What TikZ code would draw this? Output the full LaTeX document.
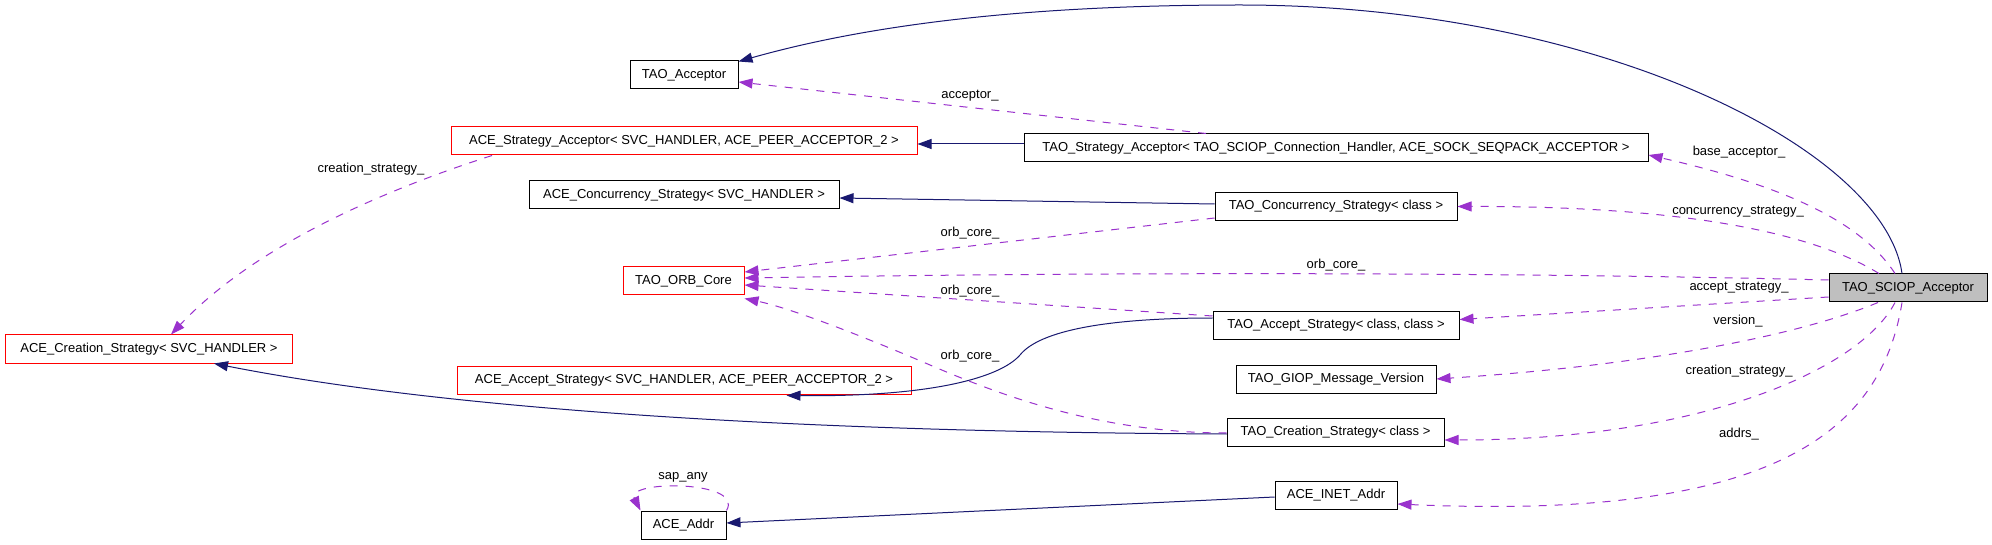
\documentclass[tikz,border=0pt]{standalone}
\usepackage{fontspec}
\setmainfont{Liberation Sans}
\usetikzlibrary{arrows.meta,calc}
\definecolor{inhcol}{HTML}{191970}
\definecolor{usecol}{HTML}{9A32CD}
\definecolor{boxred}{HTML}{FF0000}
\definecolor{boxgray}{HTML}{BFBFBF}
\begin{document}
\begin{tikzpicture}[x=1pt,y=-1pt,
  cls/.style={draw=black, line width=1pt, minimum height=28pt, inner sep=0pt, font=\fontsize{13}{15}\selectfont, fill=white},
  redcls/.style={cls, draw=boxred},
  inh/.style={draw=inhcol, line width=1pt, -{Triangle[length=14pt,width=10pt]}},
  use/.style={draw=usecol, line width=1pt, dash pattern=on 8pt off 8pt, -{Triangle[length=14pt,width=10pt]}},
  lbl/.style={font=\fontsize{13}{15}\selectfont, inner sep=0pt}]
\fill[white] (0,0) rectangle (1992,545);
\useasboundingbox (0,0) rectangle (1992,545);
% nodes
\node[cls, fill=boxgray, minimum width=158pt] (sciop) at (1908,288) {TAO\_SCIOP\_Acceptor};
\node[cls, minimum width=108pt] (tacc) at (684,75) {TAO\_Acceptor};
\node[redcls, minimum width=466pt] (asa) at (684,141) {ACE\_Strategy\_Acceptor< SVC\_HANDLER, ACE\_PEER\_ACCEPTOR\_2 >};
\node[cls, minimum width=310pt] (acs2) at (684,195) {ACE\_Concurrency\_Strategy< SVC\_HANDLER >};
\node[redcls, minimum width=121pt] (orb) at (683.5,281) {TAO\_ORB\_Core};
\node[redcls, minimum width=287pt] (acr) at (149,349) {ACE\_Creation\_Strategy< SVC\_HANDLER >};
\node[redcls, minimum width=454pt] (aas) at (684,380) {ACE\_Accept\_Strategy< SVC\_HANDLER, ACE\_PEER\_ACCEPTOR\_2 >};
\node[cls, minimum width=85pt] (addr) at (683.5,525) {ACE\_Addr};
\node[cls, minimum width=624pt] (tsa) at (1336,148) {TAO\_Strategy\_Acceptor< TAO\_SCIOP\_Connection\_Handler, ACE\_SOCK\_SEQPACK\_ACCEPTOR >};
\node[cls, minimum width=242pt] (tcs) at (1336,206.5) {TAO\_Concurrency\_Strategy< class >};
\node[cls, minimum width=246pt] (tas) at (1336,325.5) {TAO\_Accept\_Strategy< class, class >};
\node[cls, minimum width=200pt] (giop) at (1336,379) {TAO\_GIOP\_Message\_Version};
\node[cls, minimum width=217pt] (tcr) at (1335.5,432) {TAO\_Creation\_Strategy< class >};
\node[cls, minimum width=122pt] (inet) at (1336,495) {ACE\_INET\_Addr};
% inheritance
\draw[inh] ([xshift=-6pt]sciop.north) .. controls (1885,150) and (1600,5) .. (1240,5) .. controls (1000,5) and (850,30) .. ([yshift=-1pt]tacc.north east);
\draw[inh] ([yshift=4pt]tsa.west) -- ([yshift=-3pt]asa.east);
\draw[inh] ([yshift=2.5pt]tcs.west) -- ([yshift=-3pt]acs2.east);
\draw[inh] ([yshift=7.5pt]tas.west) .. controls (1110,318) and (1040,330) .. (1020,355) .. controls (1000,378) and (930,397) .. ([xshift=-125pt,yshift=-1pt]aas.south east);
\draw[inh] ([yshift=-2pt]tcr.west) .. controls (800,432) and (450,410) .. ([xshift=65pt]acr.south);
\draw[inh] ([yshift=-2pt]inet.west) -- ([yshift=2pt]addr.east);
% usage
\draw[use] ([xshift=-130pt]tsa.north) -- ([yshift=-7pt]tacc.east);
\node[lbl] (l1) at (970,96) {acceptor\_};
\draw[use] ([xshift=-13pt]sciop.north) .. controls (1860,220) and (1780,185) .. ([yshift=-7pt]tsa.east);
\node[lbl] (l2) at (1739,152) {base\_acceptor\_};
\draw[use] ([xshift=-29pt]sciop.north) .. controls (1800,225) and (1650,206) .. (tcs.east);
\node[lbl] (l3) at (1738,212) {concurrency\_strategy\_};
\draw[use] ([yshift=8pt]sciop.west) .. controls (1500,272) and (1100,272) .. ([yshift=3pt]orb.east);
\node[lbl] (l4) at (1336,265) {orb\_core\_};
\draw[use] ([yshift=-9pt]sciop.west) -- ([yshift=6pt]tas.east);
\node[lbl] (l5) at (1739,288) {accept\_strategy\_};
\draw[use] ([xshift=-30pt]sciop.south) .. controls (1800,335) and (1650,365) .. (giop.east);
\node[lbl] (l6) at (1738,321) {version\_};
\draw[use] ([xshift=-13pt]sciop.south) .. controls (1860,370) and (1700,440) .. ([yshift=-8pt]tcr.east);
\node[lbl] (l7) at (1739,371) {creation\_strategy\_};
\draw[use] ([xshift=-6pt]sciop.south) .. controls (1880,440) and (1760,520) .. ([yshift=-9pt]inet.east);
\node[lbl] (l8) at (1739,434) {addrs\_};
\draw[use] ([yshift=-11.5pt]tcs.west) -- ([yshift=9pt]orb.east);
\node[lbl] (l9) at (970,233) {orb\_core\_};
\draw[use] ([yshift=9.5pt]tas.west) -- ([yshift=-4pt]orb.east);
\node[lbl] (l10) at (970,291) {orb\_core\_};
\draw[use] ([yshift=-1pt]tcr.west) .. controls (1100,433) and (1000,395) .. (930,365) .. controls (860,335) and (790,308) .. ([yshift=-3pt]orb.south east);
\node[lbl] (l11) at (970,356) {orb\_core\_};
\draw[use] ([xshift=-192pt]asa.south) .. controls (400,185) and (260,240) .. ([xshift=22pt]acr.north);
\node[lbl] (l12) at (371,169) {creation\_strategy\_};
\draw[use] (addr.north east) .. controls (745,480) and (625,480) .. (addr.north west);
\node[lbl] (l13) at (683,477) {sap\_any};
\end{tikzpicture}
\end{document}
